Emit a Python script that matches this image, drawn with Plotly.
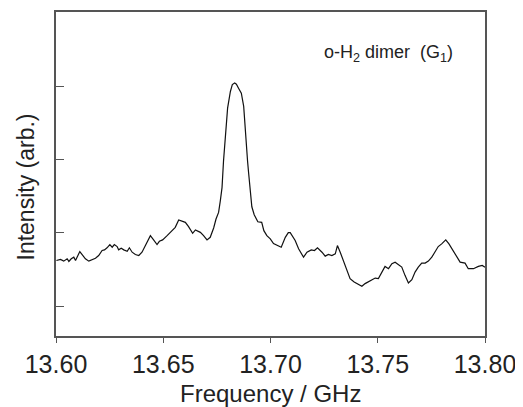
import plotly.graph_objects as go

# Frequency (GHz)
freq = [13.6002, 13.6021, 13.6036, 13.6052, 13.6060, 13.6071, 13.6083, 13.6091, 13.6111, 13.6122,
        13.6137, 13.6153, 13.6169, 13.6184, 13.6199, 13.6215, 13.6226, 13.6238, 13.6251, 13.6262,
        13.6272, 13.6285, 13.6292, 13.6304, 13.6316, 13.6332, 13.6342, 13.6355, 13.6370, 13.6386,
        13.6401, 13.6417, 13.6440, 13.6455, 13.6471, 13.6482, 13.6497, 13.6518, 13.6541, 13.6556,
        13.6572, 13.6588, 13.6603, 13.6618, 13.6637, 13.6650, 13.6673, 13.6688, 13.6704, 13.6719,
        13.6735, 13.6746, 13.6758, 13.6766, 13.6774, 13.6781, 13.6786, 13.6789, 13.6800, 13.6813,
        13.6822, 13.6833, 13.6841, 13.6851, 13.6864, 13.6875, 13.6879, 13.6887, 13.6893, 13.6898,
        13.6906, 13.6913, 13.6924, 13.6941, 13.6959, 13.6969, 13.6983, 13.6999, 13.7014, 13.7037,
        13.7050, 13.7069, 13.7083, 13.7092, 13.7107, 13.7115, 13.7131, 13.7143, 13.7154, 13.7170,
        13.7190, 13.7205, 13.7219, 13.7240, 13.7255, 13.7270, 13.7286, 13.7302, 13.7312, 13.7325,
        13.7340, 13.7356, 13.7371, 13.7390, 13.7410, 13.7426, 13.7441, 13.7465, 13.7488, 13.7503,
        13.7519, 13.7534, 13.7550, 13.7566, 13.7581, 13.7596, 13.7612, 13.7627, 13.7643, 13.7659,
        13.7674, 13.7689, 13.7705, 13.7721, 13.7736, 13.7752, 13.7767, 13.7782, 13.7798, 13.7817,
        13.7832, 13.7852, 13.7868, 13.7884, 13.7907, 13.7922, 13.7946, 13.7969, 13.7987, 13.8000]

# Intensity (arb. units)
intensity = [1.624, 1.638, 1.615, 1.647, 1.611, 1.647, 1.669, 1.624, 1.746, 1.706,
             1.647, 1.615, 1.634, 1.655, 1.692, 1.760, 1.769, 1.797, 1.841, 1.805,
             1.841, 1.814, 1.769, 1.791, 1.769, 1.750, 1.797, 1.737, 1.706, 1.692,
             1.737, 1.828, 1.963, 1.905, 1.841, 1.886, 1.905, 1.963, 2.031, 2.076,
             2.176, 2.157, 2.144, 2.085, 1.995, 2.041, 2.008, 1.963, 1.905, 1.940,
             2.068, 2.190, 2.280, 2.438, 2.619, 2.981, 3.161, 3.343, 3.704, 3.931,
             4.026, 4.046, 4.030, 3.976, 3.908, 3.727, 3.524, 3.252, 2.981, 2.818,
             2.506, 2.357, 2.248, 2.153, 2.144, 2.031, 1.963, 1.919, 1.855, 1.828,
             1.805, 1.940, 2.004, 2.004, 1.936, 1.896, 1.783, 1.715, 1.669, 1.737,
             1.769, 1.760, 1.797, 1.737, 1.683, 1.706, 1.692, 1.715, 1.828, 1.737,
             1.624, 1.488, 1.376, 1.330, 1.299, 1.271, 1.308, 1.343, 1.384, 1.376,
             1.465, 1.543, 1.512, 1.579, 1.601, 1.563, 1.533, 1.421, 1.316, 1.362,
             1.465, 1.533, 1.588, 1.588, 1.615, 1.669, 1.750, 1.814, 1.851, 1.905,
             1.851, 1.760, 1.678, 1.601, 1.588, 1.512, 1.512, 1.543, 1.556, 1.533]

x_ticks = [13.60, 13.65, 13.70, 13.75, 13.80]
x_tick_labels = ["13.60", "13.65", "13.70", "13.75", "13.80"]
y_ticks = [1, 2, 3, 4]

FONT = "Liberation Sans, Arial, Helvetica, sans-serif"
AXC = "#555555"

fig = go.Figure()
fig.add_trace(go.Scatter(x=freq, y=intensity, mode="lines",
                         line=dict(color="#111111", width=1.2),
                         showlegend=False, hoverinfo="skip"))

fig.update_layout(
    width=515, height=399,
    margin=dict(l=48, r=38, t=2, b=71),
    paper_bgcolor="white", plot_bgcolor="white",
    font=dict(family=FONT, color="#222222"),
    xaxis=dict(range=[13.60, 13.80], tickvals=x_ticks, ticktext=x_tick_labels,
               ticks="outside", ticklen=5, tickwidth=1, tickcolor=AXC,
               showline=True, linecolor=AXC, linewidth=1.5, mirror=True,
               showgrid=False, zeroline=False,
               tickfont=dict(size=25, family=FONT, color="#222222")),
    yaxis=dict(range=[0.593, 5.016], tickvals=y_ticks, showticklabels=False,
               ticks="inside", ticklen=8, tickwidth=1, tickcolor=AXC,
               showline=True, linecolor=AXC, linewidth=1.5, mirror=True,
               showgrid=False, zeroline=False),
    annotations=[
        dict(text="o-H<sub>2</sub> dimer  (G<sub>1</sub>)", xref="paper", yref="paper",
             x=0.774, y=0.871, xanchor="center", yanchor="middle", showarrow=False,
             font=dict(size=18, family=FONT, color="#222222")),
        dict(text="Frequency / GHz", xref="paper", yref="paper",
             x=0.5, y=-0.178, xanchor="center", yanchor="middle", showarrow=False,
             font=dict(size=24, family=FONT, color="#222222")),
        dict(text="Intensity (arb.)", xref="paper", yref="paper",
             x=-0.071, y=0.46, xanchor="center", yanchor="middle", showarrow=False,
             textangle=-90, font=dict(size=23, family=FONT, color="#222222")),
    ],
)

fig.write_html("out.html")
